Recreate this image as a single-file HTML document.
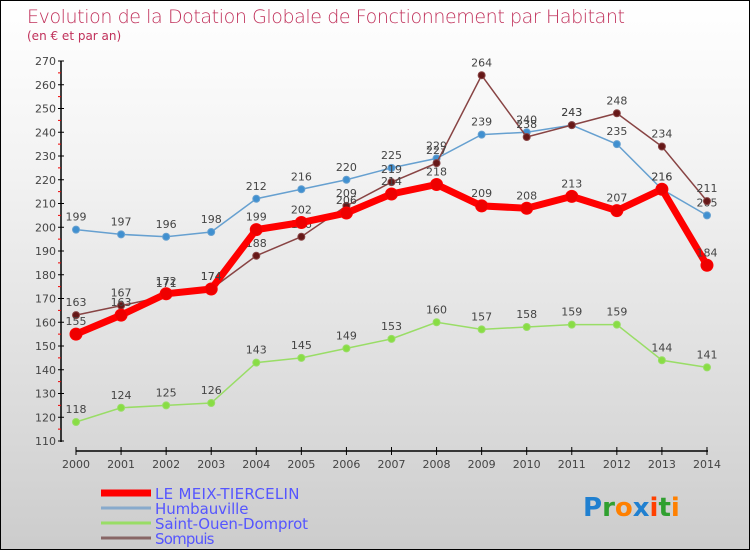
<!DOCTYPE html>
<html><head><meta charset="utf-8"><style>
body{margin:0}
#c{width:748px;height:548px;border:1px solid #000;background:linear-gradient(#fff,#f3f3f3 30%,#d8d8d8 80%,#cccccc);position:relative;font-family:"DejaVu Sans","Liberation Sans",sans-serif}
</style></head><body>
<div id="c">
<svg width="748" height="548" id="s">
<text x="26" y="22" font-size="19" fill="#c0305a" style="font-family:'DejaVu Sans',sans-serif;font-weight:200" textLength="598">Evolution de la Dotation Globale de Fonctionnement par Habitant</text>
<text x="26" y="39" font-size="12" fill="#c0305a">(en € et par an)</text>
</svg></div>
<script>
const years=[2000,2001,2002,2003,2004,2005,2006,2007,2008,2009,2010,2011,2012,2013,2014];
const meix=[155,163,172,174,199,202,206,214,218,209,208,213,207,216,184];
const humb=[199,197,196,198,212,216,220,225,229,239,240,243,235,216,205];
const stouen=[118,124,125,126,143,145,149,153,160,157,158,159,159,144,141];
const sompuis=[163,167,171,174,188,196,209,219,227,264,238,243,248,234,211];
const yTicks=[110,120,130,140,150,160,170,180,190,200,210,220,230,240,250,260,270];
const s=document.getElementById('s');const NS='http://www.w3.org/2000/svg';
const X=i=>75+i*45.07, Y=v=>440-(v-110)*2.375;
function el(t,a,p){const e=document.createElementNS(NS,t);for(const k in a)e.setAttribute(k,a[k]);(p||s).appendChild(e);return e;}
let ax=el('line',{x1:60,y1:60,x2:60,y2:441,stroke:'#000','stroke-width':1.5});

let bx=el('line',{x1:75,y1:450,x2:707,y2:450,stroke:'#000','stroke-width':1.5});

yTicks.forEach((v,i)=>{el('line',{x1:57,x2:63,y1:Y(v),y2:Y(v),stroke:'#000'});
 if(i<yTicks.length-1)el('line',{x1:57,x2:60,y1:Y(v+5),y2:Y(v+5),stroke:'#e00'});
 const t=el('text',{x:55,y:Y(v)+4,'text-anchor':'end','font-size':11,fill:'#444'});t.textContent=v;
 });
years.forEach((y,i)=>{el('line',{x1:X(i),x2:X(i),y1:446,y2:454,stroke:'#000'});
 const t=el('text',{x:X(i),y:467,'text-anchor':'middle','font-size':11,fill:'#444'});t.textContent=y;
 });
function series(d,col,dot,w,r,name){
 const g=el('g',{});
 el('polyline',{points:d.map((v,i)=>X(i)+','+Y(v)).join(' '),fill:'none',stroke:col,'stroke-width':w},g);
 d.forEach((v,i)=>{const c=el('circle',{cx:X(i),cy:Y(v),r:r,fill:dot,stroke:col,'stroke-width':1},g);
  
  const t=el('text',{x:X(i),y:Y(v)-9,'text-anchor':'middle','font-size':11,fill:'#444'},g);t.textContent=v;});
}
series(stouen,'#99dd66','#88dd44',1.5,3.5,'saint-ouen-series');
series(humb,'#66a0d0','#4090d0',1.5,3.5,'humbauville-series');
series(sompuis,'#884444','#661818',1.5,3.5,'sompuis-series');
series(meix,'#ff0000','#ee0000',7,6,'meix-series');
const leg=[['LE MEIX-TIERCELIN','#ff0000',7],['Humbauville','#88aacc',3],['Saint-Ouen-Domprot','#99dd66',3],['Sompuis','#886666',3]];
leg.forEach((l,i)=>{const y=492+i*15;const g=el('g',{});
 el('line',{x1:100,x2:150,y1:y,y2:y,stroke:l[1],'stroke-width':l[2]},g);
 const t=el('text',{x:154,y:y+6,'font-size':15,fill:'#5555ff',textLength:l[0].length*8.5},g);t.textContent=l[0];});
const lg=el('text',{x:582,y:515,'font-size':26,'font-weight':'bold'});
[['P','#2080d0'],['r','#30a030'],['o','#ff8000'],['x','#2080d0'],['i','#ff4000'],['t','#30a030'],['i','#ff8000']].forEach(c=>{const sp=el('tspan',{fill:c[1]},lg);sp.textContent=c[0];});
</script></body></html>
